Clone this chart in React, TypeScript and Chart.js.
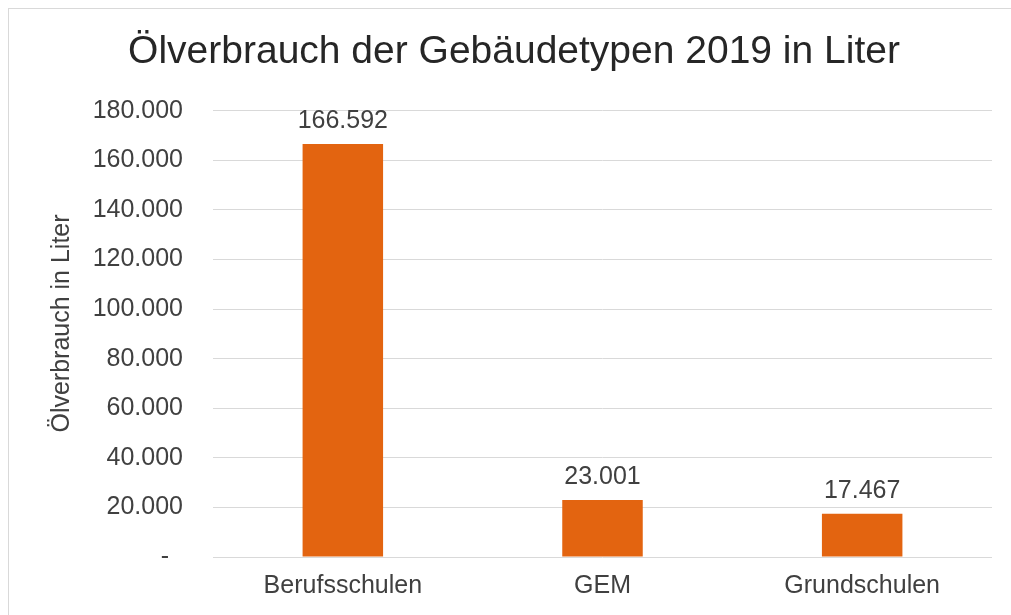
import React, { useEffect, useRef } from "react";
import { Chart, registerables } from "chart.js";

Chart.register(...registerables);

const categories: string[] = ["Berufsschulen", "GEM", "Grundschulen"];
const consumption: number[] = [166592, 23001, 17467];
const yMax = 180000;
const yStep = 20000;
const chartTitle = "Ölverbrauch der Gebäudetypen 2019 in Liter";
const yAxisTitle = "Ölverbrauch in Liter";

const FONT = "'Liberation Sans', Arial, sans-serif";
const BAR_COLOR = "#E36410";
const TEXT_COLOR = "#404040";

function formatDE(v: number): string {
  const s = Math.round(v).toString();
  return s.replace(/\B(?=(\d{3})+(?!\d))/g, ".");
}

const dataLabelPlugin = {
  id: "dataLabels",
  afterDatasetsDraw(chart: any) {
    const ctx = chart.ctx;
    ctx.save();
    ctx.font = `25px ${FONT}`;
    ctx.fillStyle = TEXT_COLOR;
    ctx.textAlign = "center";
    ctx.textBaseline = "alphabetic";
    chart.data.datasets.forEach((ds: any, di: number) => {
      const meta = chart.getDatasetMeta(di);
      meta.data.forEach((el: any, i: number) => {
        ctx.fillText(formatDE(ds.data[i]), el.x, el.y - 16);
      });
    });
    ctx.restore();
  },
};

export default function App() {
  const canvasRef = useRef<HTMLCanvasElement | null>(null);

  useEffect(() => {
    if (!canvasRef.current) return;
    const chart = new Chart(canvasRef.current, {
      type: "bar",
      data: {
        labels: categories,
        datasets: [
          {
            data: consumption,
            backgroundColor: BAR_COLOR,
            borderWidth: 0,
            categoryPercentage: 1,
            barPercentage: 0.31,
          },
        ],
      },
      options: {
        animation: false,
        responsive: true,
        maintainAspectRatio: false,
        layout: { padding: { left: 36, right: 19, top: 0, bottom: 0 } },
        plugins: {
          legend: { display: false },
          tooltip: { enabled: false },
          title: {
            display: true,
            text: chartTitle,
            color: "#262626",
            font: { family: FONT, size: 39, weight: "normal", lineHeight: 1.2 },
            padding: { top: 29, bottom: 35 },
          },
        },
        scales: {
          x: {
            grid: { display: false, drawTicks: false },
            border: { display: false },
            ticks: {
              color: TEXT_COLOR,
              font: { family: FONT, size: 25, lineHeight: 1.2 },
              padding: 14,
              maxRotation: 0,
            },
            afterFit: (scale: any) => {
              scale.height = 58;
            },
          },
          y: {
            min: 0,
            max: yMax,
            grid: { color: "#d9d9d9", lineWidth: 1, drawTicks: false },
            border: { display: false },
            ticks: {
              stepSize: yStep,
              color: TEXT_COLOR,
              font: { family: FONT, size: 25, lineHeight: 1.2 },
              padding: 30,
              callback: (v: any) => (Number(v) === 0 ? "-  " : formatDE(Number(v))),
            },
            title: {
              display: true,
              text: "   " + yAxisTitle,
              color: TEXT_COLOR,
              font: { family: FONT, size: 25, lineHeight: 1.2 },
              padding: { top: 11, bottom: 0 },
            },
            afterFit: (scale: any) => {
              scale.width = 177;
            },
          },
        },
      },
      plugins: [dataLabelPlugin],
    });
    return () => chart.destroy();
  }, []);

  return (
    <div
      style={{
        position: "fixed",
        left: 0,
        top: 0,
        width: 1011,
        height: 615,
        overflow: "hidden",
        background: "#ffffff",
      }}
    >
      <div
        style={{
          position: "absolute",
          left: 8,
          top: 8,
          width: 1100,
          height: 700,
          border: "1px solid #d9d9d9",
          boxSizing: "border-box",
        }}
      />
      <div style={{ position: "absolute", left: 0, top: 0, width: 1011, height: 615 }}>
        <canvas ref={canvasRef} />
      </div>
    </div>
  );
}
